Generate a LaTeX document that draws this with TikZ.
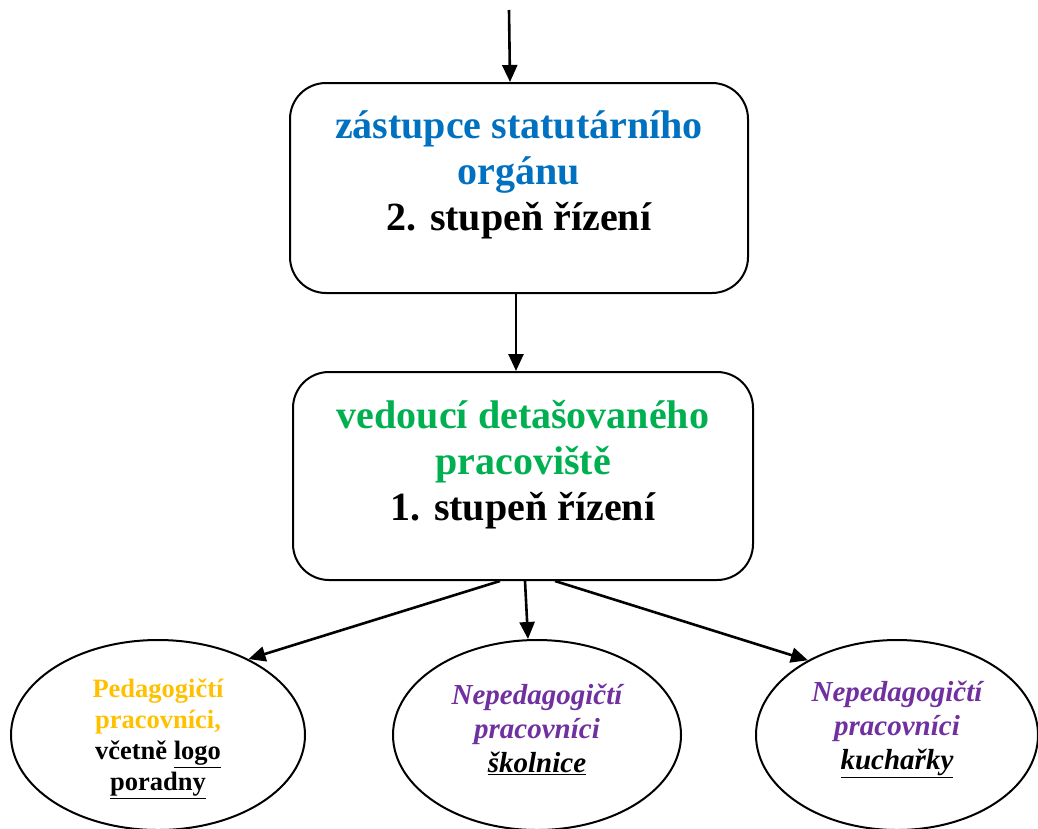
\documentclass[tikz,border=0pt]{standalone}
\usepackage{fontspec}
\setmainfont{Liberation Serif}
\usetikzlibrary{arrows.meta,shapes.geometric}
\definecolor{cblue}{HTML}{0070C0}
\definecolor{cgreen}{HTML}{00B050}
\definecolor{cyellow}{HTML}{FFC000}
\definecolor{cpurple}{HTML}{7030A0}
\begin{document}
\begin{tikzpicture}[x=1pt,y=-1pt,
  boxstyle/.style={draw,line width=2pt,rounded corners=36pt,inner sep=0pt},
  ellstyle/.style={draw,ellipse,line width=2pt,inner sep=0pt},
  bigtext/.style={font=\fontsize{40}{46}\selectfont\bfseries,align=center,inner sep=0pt},
  smalltext/.style={font=\fontsize{26.5}{31}\selectfont\bfseries,align=center,inner sep=0pt},
  italtext/.style={font=\fontsize{29}{34}\selectfont\bfseries\itshape,align=center,inner sep=0pt},
  arr/.style={line width=2.6pt,-{Triangle[length=17pt,width=15pt]}}]
\useasboundingbox (0,0) rectangle (1038,828);
\node[boxstyle,minimum width=458pt,minimum height=210pt] (b1) at (519,188) {};
\node[bigtext] (t1) at (519,175) {\textcolor{cblue}{zástupce statutárního}\\\textcolor{cblue}{orgánu}\\2. stupeň řízení};
\node[boxstyle,minimum width=460pt,minimum height=208pt] (b2) at (523,476) {};
\node[bigtext] (t2) at (523,465) {\textcolor{cgreen}{vedoucí detašovaného}\\\textcolor{cgreen}{pracoviště}\\1. stupeň řízení};
\node[ellstyle,minimum width=294pt,minimum height=190pt] (e1) at (158,735) {};
\node[smalltext] (s1) at (158,739) {\textcolor{cyellow}{Pedagogičtí}\\\textcolor{cyellow}{pracovníci,}\\včetně \underline{logo}\\\underline{poradny}};
\node[ellstyle,minimum width=288pt,minimum height=190pt] (e2) at (537,735) {};
\node[italtext] (s2) at (537,729) {\textcolor{cpurple}{Nepedagogičtí}\\\textcolor{cpurple}{pracovníci}\\\underline{školnice}};
\node[ellstyle,minimum width=282pt,minimum height=190pt] (e3) at (897,735) {};
\node[italtext] (s3) at (897,729) {\textcolor{cpurple}{Nepedagogičtí}\\\textcolor{cpurple}{pracovníci}\\\underline{kuchařky}};
\coordinate (top) at (509,10);
\draw[arr] (top) -- ([xshift=-9pt]b1.north);
\draw[arr] ([xshift=-3pt]b1.south) -- ([xshift=-7pt]b2.north);
\draw[arr] ([xshift=-23pt]b2.south) -- (e1.40);
\draw[arr] ([xshift=2pt]b2.south) -- ([xshift=-9pt]e2.north);
\draw[arr] ([xshift=32pt]b2.south) -- (e3.140);
\end{tikzpicture}
\end{document}
